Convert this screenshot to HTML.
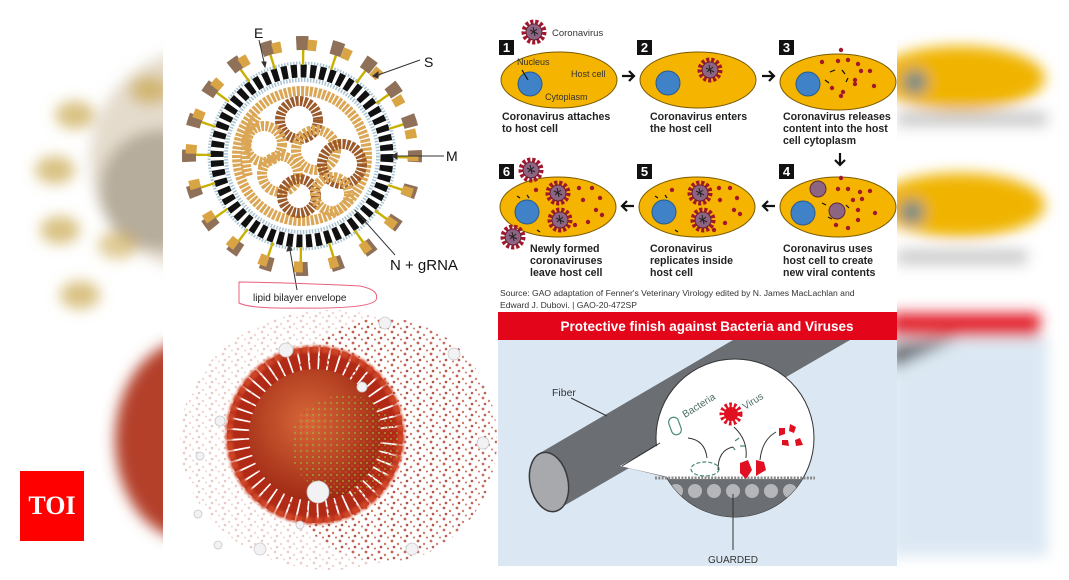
<!DOCTYPE html>
<html><head><meta charset="utf-8"><style>
html,body{margin:0;padding:0;background:#fff;width:1069px;height:580px;overflow:hidden}
svg{display:block}
text{font-family:"Liberation Sans",sans-serif}
</style></head><body>
<svg width="1069" height="580" viewBox="0 0 1069 580" xmlns="http://www.w3.org/2000/svg">
<defs>
<filter id="bl" x="-20%" y="-20%" width="140%" height="140%"><feGaussianBlur stdDeviation="7"/></filter>
<filter id="bl2" x="-20%" y="-20%" width="140%" height="140%"><feGaussianBlur stdDeviation="1.2"/></filter>
<g id="vir">
<circle r="10" fill="none" stroke="#a3172c" stroke-width="5" stroke-dasharray="3 1.8"/>
<circle r="8" fill="#8d6482" stroke="#6b1d35" stroke-width="1"/>
<path d="M-4,-2 l8,4 M-3,2 l6,-5 M-1,-5 l2,9" stroke="#222" stroke-width="1"/>
</g>
<pattern id="dots" width="13" height="11" patternUnits="userSpaceOnUse">
<circle cx="2" cy="2" r="1.4" fill="#b4402c"/><circle cx="8" cy="5" r="1.2" fill="#c95a3e"/><circle cx="4" cy="8" r="1.3" fill="#9c2c1c"/><circle cx="11" cy="9.5" r="1" fill="#c04a30"/>
</pattern>
<pattern id="dotsg" width="6" height="6" patternUnits="userSpaceOnUse">
<circle cx="1" cy="1" r="1" fill="#9bb23a"/><circle cx="4" cy="4" r="1" fill="#c84a2a"/>
</pattern>
<radialGradient id="rg" cx="0.45" cy="0.4" r="0.6"><stop offset="0" stop-color="#d8683a"/><stop offset="1" stop-color="#a02a14"/></radialGradient>
<clipPath id="cl"><rect x="0" y="0" width="163" height="580"/></clipPath>
<clipPath id="cr"><rect x="897" y="0" width="172" height="580"/></clipPath>
<clipPath id="bub"><circle cx="735" cy="438" r="79"/></clipPath>
</defs>

<!-- blurred backgrounds -->
<g clip-path="url(#cl)" filter="url(#bl)">
<circle cx="200" cy="160" r="110" fill="#c9b79a" opacity="0.5"/>
<circle cx="160" cy="190" r="60" fill="#8a8070" opacity="0.5"/>
<ellipse cx="150" cy="90" rx="20" ry="14" fill="#c9a64c" opacity="0.7"/>
<ellipse cx="75" cy="115" rx="20" ry="14" fill="#c9a64c" opacity="0.7"/>
<ellipse cx="55" cy="170" rx="20" ry="14" fill="#c9a64c" opacity="0.7"/>
<ellipse cx="60" cy="230" rx="20" ry="14" fill="#c9a64c" opacity="0.7"/>
<ellipse cx="80" cy="295" rx="20" ry="14" fill="#c9a64c" opacity="0.7"/>
<ellipse cx="118" cy="245" rx="20" ry="14" fill="#c9a64c" opacity="0.6"/>
<ellipse cx="190" cy="440" rx="75" ry="100" fill="#b4402a"/>
</g>
<g clip-path="url(#cr)" filter="url(#bl)">
<ellipse cx="960" cy="78" rx="85" ry="32" fill="#f0b400"/>
<circle cx="915" cy="82" r="12" fill="#6a8a8a"/>
<rect x="897" y="112" width="150" height="14" fill="#c8c8c8"/>
<ellipse cx="960" cy="205" rx="85" ry="32" fill="#f0b400"/>
<circle cx="912" cy="212" r="12" fill="#6a8a8a"/>
<rect x="897" y="250" width="130" height="14" fill="#c8c8c8"/>
<rect x="890" y="313" width="150" height="24" fill="#e3202f"/>
<rect x="890" y="338" width="158" height="218" fill="#dbe8f3"/>
<path d="M890,345 L960,338 L890,370 Z" fill="#6b6e72"/>
</g>

<!-- TOI -->
<rect x="20" y="471" width="64" height="70" fill="#fe0000"/>
<text x="52" y="514" style="font-family:'Liberation Serif',serif;font-weight:bold;font-size:26px" fill="#fff" text-anchor="middle">TOI</text>

<!-- Left panel -->
<rect x="163" y="14" width="334" height="552" fill="#fff"/>
<!-- coronavirus diagram -->
<g transform="translate(302,156)">
<circle r="76" fill="none" stroke="#a9c4d2" stroke-width="4" stroke-dasharray="1.5 1.5"/>
<circle r="85" fill="none" stroke="#111" stroke-width="13" stroke-dasharray="6 3.5"/>
<circle r="93" fill="none" stroke="#a9c4d2" stroke-width="3" stroke-dasharray="1.5 1.5"/>
<circle r="100" fill="none" stroke="#c8b000" stroke-width="18" stroke-dasharray="2.4 29"/>
<circle r="113" fill="none" stroke="#8f7058" stroke-width="14" stroke-dasharray="12 23.5" stroke-dashoffset="6"/>
<circle r="111" fill="none" stroke="#d9a444" stroke-width="11" stroke-dasharray="9 26.5" stroke-dashoffset="4"/>
<circle r="65" fill="#fff" stroke="#dba756" stroke-width="10" stroke-dasharray="3 1.3"/>
<g fill="none" stroke-width="10" stroke-dasharray="3 1.3">
<circle cx="-3" cy="-36" r="19" stroke="#9c5a2a"/>
<circle cx="-38" cy="-12" r="18" stroke="#dba756"/>
<circle cx="14" cy="-6" r="20" stroke="#dba756"/>
<circle cx="-22" cy="18" r="18" stroke="#dba756"/>
<circle cx="40" cy="8" r="20" stroke="#9c5a2a"/>
<circle cx="-3" cy="40" r="17" stroke="#9c5a2a"/>
<circle cx="30" cy="38" r="17" stroke="#dba756"/>
<path d="M-54,20 Q-62,-10 -45,-40" stroke="#dba756"/>
</g>
</g>
<g stroke="#333" stroke-width="1" fill="#333">
<line x1="259" y1="40" x2="264" y2="62"/><path d="M262,62 l4,0 l-1,5z"/>
<line x1="420" y1="60" x2="378" y2="75"/><path d="M378,72 l0,6 l-5,-2z"/>
<line x1="444" y1="156" x2="397" y2="156"/><path d="M397,153 l0,6 l-5,-3z"/>
<line x1="395" y1="255" x2="355" y2="210"/>
<line x1="297" y1="290" x2="290" y2="250"/><path d="M287,251 l5,-1 l-3,-5z"/>
</g>
<text x="254" y="38" font-size="14" fill="#111">E</text>
<text x="424" y="67" font-size="14" fill="#111">S</text>
<text x="446" y="161" font-size="14" fill="#111">M</text>
<text x="390" y="270" font-size="15" fill="#111">N + gRNA</text>
<path d="M239,282 Q300,283 360,286 Q380,290 376,300 Q370,309 300,308 Q250,309 239,303 Z" fill="none" stroke="#e8607a" stroke-width="1"/>
<text x="253" y="301" font-size="10" fill="#222">lipid bilayer envelope</text>

<!-- 3D virus -->
<ellipse cx="385" cy="440" rx="112" ry="122" fill="url(#dots)" opacity="0.75"/>
<ellipse cx="330" cy="440" rx="150" ry="130" fill="url(#dots)" opacity="0.25"/>
<circle cx="315" cy="435" r="76" fill="none" stroke="#b02a16" stroke-width="24" stroke-dasharray="8 1.8"/>
<circle cx="315" cy="435" r="86" fill="none" stroke="#cf4426" stroke-width="7" stroke-dasharray="8 1.8" filter="url(#bl2)"/>
<circle cx="315" cy="435" r="66" fill="url(#rg)"/>
<ellipse cx="345" cy="445" rx="55" ry="50" fill="url(#dotsg)" opacity="0.8"/>
<g fill="#f2f2f4" stroke="#c8c8cc" stroke-width="0.8">
<circle cx="318" cy="492" r="11"/><circle cx="286" cy="350" r="7"/><circle cx="385" cy="323" r="6"/><circle cx="454" cy="354" r="6"/><circle cx="362" cy="387" r="5"/><circle cx="220" cy="421" r="5"/><circle cx="200" cy="456" r="4"/><circle cx="198" cy="514" r="4"/><circle cx="260" cy="549" r="6"/><circle cx="412" cy="549" r="6"/><circle cx="483" cy="443" r="6"/><circle cx="218" cy="545" r="4"/><circle cx="300" cy="525" r="4"/>
</g>

<!-- Right panel (steps) -->
<rect x="497" y="14" width="400" height="298" fill="#fff"/>
<g stroke="#7a5a00" stroke-width="1" fill="#f5b400">
<ellipse cx="559" cy="80" rx="58" ry="28"/><ellipse cx="698" cy="80" rx="58" ry="28"/><ellipse cx="838" cy="82" rx="58" ry="28"/>
<ellipse cx="558" cy="207" rx="58" ry="30"/><ellipse cx="697" cy="207" rx="58" ry="30"/><ellipse cx="838" cy="207" rx="58" ry="30"/>
</g>
<g fill="#3f82c8" stroke="#2a5a90" stroke-width="1">
<circle cx="530" cy="84" r="12"/><circle cx="668" cy="83" r="12"/><circle cx="808" cy="84" r="12"/>
<circle cx="527" cy="212" r="12"/><circle cx="664" cy="212" r="12"/><circle cx="803" cy="213" r="12"/>
</g>
<g fill="#8d6482" stroke="#5a2a40" stroke-width="1"><circle cx="818" cy="189" r="8"/><circle cx="837" cy="211" r="8"/></g>
<use href="#vir" x="534" y="32"/><use href="#vir" x="710" y="70"/>
<use href="#vir" x="558" y="193"/><use href="#vir" x="560" y="220"/><use href="#vir" x="531" y="170"/><use href="#vir" x="513" y="237"/>
<use href="#vir" x="700" y="193"/><use href="#vir" x="703" y="220"/>
<g fill="#a3172c">
<circle cx="841" cy="50" r="2.2"/><circle cx="822" cy="62" r="2.2"/><circle cx="838" cy="61" r="2.2"/><circle cx="848" cy="60" r="2.2"/><circle cx="861" cy="71" r="2.2"/><circle cx="870" cy="71" r="2.2"/><circle cx="855" cy="80" r="2.2"/><circle cx="832" cy="88" r="2.2"/><circle cx="843" cy="92" r="2.2"/><circle cx="874" cy="86" r="2.2"/><circle cx="841" cy="96" r="2.2"/><circle cx="858" cy="64" r="2.2"/><circle cx="855" cy="84" r="2.2"/>
<circle cx="841" cy="178" r="2.2"/><circle cx="838" cy="189" r="2.2"/><circle cx="848" cy="189" r="2.2"/><circle cx="860" cy="192" r="2.2"/><circle cx="870" cy="191" r="2.2"/><circle cx="853" cy="200" r="2.2"/><circle cx="862" cy="199" r="2.2"/><circle cx="858" cy="210" r="2.2"/><circle cx="875" cy="213" r="2.2"/><circle cx="858" cy="220" r="2.2"/><circle cx="836" cy="225" r="2.2"/><circle cx="848" cy="228" r="2.2"/>
<circle cx="719" cy="188" r="2.2"/><circle cx="730" cy="188" r="2.2"/><circle cx="737" cy="198" r="2.2"/><circle cx="720" cy="200" r="2.2"/><circle cx="734" cy="210" r="2.2"/><circle cx="740" cy="214" r="2.2"/><circle cx="725" cy="223" r="2.2"/><circle cx="714" cy="230" r="2.2"/><circle cx="672" cy="190" r="2.2"/>
<circle cx="579" cy="188" r="2.2"/><circle cx="592" cy="188" r="2.2"/><circle cx="600" cy="198" r="2.2"/><circle cx="583" cy="200" r="2.2"/><circle cx="596" cy="210" r="2.2"/><circle cx="602" cy="215" r="2.2"/><circle cx="588" cy="222" r="2.2"/><circle cx="575" cy="225" r="2.2"/><circle cx="536" cy="190" r="2.2"/>
</g>
<g stroke="#111" stroke-width="1.2">
<path d="M830,72 l5,-2 M842,70 l3,4 M825,80 l4,3 M848,78 l-2,4"/>
<path d="M822,203 l4,2 M828,217 l4,2 M846,205 l3,3"/>
<path d="M517,196 l3,2 M527,195 l2,3 M537,230 l3,2 M655,196 l3,2 M665,195 l2,3 M675,230 l3,2"/>
<line x1="522" y1="70" x2="528" y2="80"/>
</g>
<g fill="#111">
<rect x="499" y="40" width="15" height="15"/><rect x="637" y="40" width="15" height="15"/><rect x="779" y="40" width="15" height="15"/>
<rect x="499" y="164" width="15" height="15"/><rect x="637" y="164" width="15" height="15"/><rect x="779" y="164" width="15" height="15"/>
</g>
<g fill="#fff" font-size="13" font-weight="bold" text-anchor="middle">
<text x="506.5" y="52">1</text><text x="644.5" y="52">2</text><text x="786.5" y="52">3</text>
<text x="506.5" y="176">6</text><text x="644.5" y="176">5</text><text x="786.5" y="176">4</text>
</g>
<g fill="none" stroke="#111" stroke-width="2.2">
<path d="M622,76 h12 M629,71 l5,5 l-5,5"/><path d="M762,76 h12 M769,71 l5,5 l-5,5"/>
<path d="M622,206 h12 M627,201 l-5,5 l5,5"/><path d="M763,206 h12 M768,201 l-5,5 l5,5"/>
<path d="M840,153 v12 M835,160 l5,5 l5,-5"/>
</g>
<text x="552" y="36" font-size="9.5" fill="#333">Coronavirus</text>
<text x="517" y="65" font-size="9" fill="#333">Nucleus</text>
<text x="571" y="77" font-size="9" fill="#333">Host cell</text>
<text x="545" y="100" font-size="9" fill="#333">Cytoplasm</text>
<g font-size="10.6" font-weight="bold" fill="#222">
<text x="502" y="120">Coronavirus attaches</text><text x="502" y="132">to host cell</text>
<text x="650" y="120">Coronavirus enters</text><text x="650" y="132">the host cell</text>
<text x="783" y="120">Coronavirus releases</text><text x="783" y="132">content into the host</text><text x="783" y="144">cell cytoplasm</text>
<text x="530" y="252">Newly formed</text><text x="530" y="264">coronaviruses</text><text x="530" y="276">leave host cell</text>
<text x="650" y="252">Coronavirus</text><text x="650" y="264">replicates inside</text><text x="650" y="276">host cell</text>
<text x="783" y="252">Coronavirus uses</text><text x="783" y="264">host cell to create</text><text x="783" y="276">new viral contents</text>
</g>
<text x="500" y="296" font-size="8.6" fill="#333">Source: GAO adaptation of Fenner's Veterinary Virology edited by N. James MacLachlan and</text>
<text x="500" y="308" font-size="8.6" fill="#333">Edward J. Dubovi.  |  GAO-20-472SP</text>

<!-- Protective panel -->
<rect x="498" y="312" width="399" height="28" fill="#e3061b"/>
<text x="707" y="331" font-size="13.5" font-weight="bold" fill="#fff" text-anchor="middle">Protective finish against Bacteria and Viruses</text>
<rect x="498" y="340" width="399" height="226" fill="#dbe8f3"/>
<path d="M540,453 L733,340 L850,340 L555,511 Z" fill="#6b6e72"/>
<ellipse cx="549" cy="482" rx="19" ry="30" transform="rotate(-12 549 482)" fill="#a8a9ad" stroke="#3a3a3c" stroke-width="1.5"/>
<path d="M622,466 L665,440 L680,480 Z" fill="#fff" stroke="#333" stroke-width="1"/>
<circle cx="735" cy="438" r="79" fill="#fff" stroke="#333" stroke-width="1"/>
<path d="M620,466 L668,440 L672,478 Z" fill="#fff"/>
<path d="M622,466 L660,443" stroke="#333" stroke-width="1"/>
<g clip-path="url(#bub)">
<rect x="640" y="479" width="200" height="60" fill="#6b6e72"/>
<g fill="#b5b6ba"><circle cx="676" cy="491" r="7"/><circle cx="695" cy="491" r="7"/><circle cx="714" cy="491" r="7"/><circle cx="733" cy="491" r="7"/><circle cx="752" cy="491" r="7"/><circle cx="771" cy="491" r="7"/><circle cx="790" cy="491" r="7"/></g>
</g>
<line x1="655" y1="478" x2="815" y2="478" stroke="#888" stroke-width="3" stroke-dasharray="2 1.3"/>
<line x1="733" y1="494" x2="733" y2="550" stroke="#333" stroke-width="1"/>
<text x="733" y="563" font-size="10" fill="#333" text-anchor="middle">GUARDED</text>
<line x1="571" y1="398" x2="607" y2="416" stroke="#333" stroke-width="1"/>
<text x="552" y="396" font-size="10.5" fill="#333">Fiber</text>
<text x="685" y="418" font-size="10" fill="#4e6e66" transform="rotate(-32 685 418)">Bacteria</text>
<text x="745" y="410" font-size="10" fill="#4e6e66" transform="rotate(-32 745 410)">Virus</text>
<circle cx="731" cy="414" r="9" fill="none" stroke="#e01020" stroke-width="5" stroke-dasharray="2.5 2"/>
<circle cx="731" cy="414" r="7" fill="#e01020"/>
<rect x="670" y="417" width="10" height="18" rx="5" transform="rotate(-20 675 426)" fill="none" stroke="#4a8a78" stroke-width="1.2"/>
<ellipse cx="705" cy="469" rx="14" ry="7" fill="none" stroke="#4a8a78" stroke-width="1.2" stroke-dasharray="4 2"/>
<path d="M735,441 l4,-3 M740,446 l5,0 M733,447 l2,3" stroke="#4a8a78" stroke-width="1.2"/>
<g fill="#e01020"><path d="M740,463 l8,-3 l4,10 l-6,9 l-6,-6z"/><path d="M756,460 l8,2 l2,8 l-10,6z"/><path d="M779,428 l6,0 l0,6 l-6,2z"/><path d="M790,424 l6,3 l-2,6 l-5,-2z"/><path d="M782,440 l6,0 l1,6 l-7,-1z"/><path d="M795,440 l5,-2 l3,7 l-7,1z"/></g>
<g fill="none" stroke="#333" stroke-width="1">
<path d="M688,438 Q705,440 707,458"/><path d="M718,470 Q718,450 733,447"/><path d="M734,427 Q748,440 746,458"/><path d="M760,460 Q762,440 776,432"/>
</g>
</svg>
</body></html>
